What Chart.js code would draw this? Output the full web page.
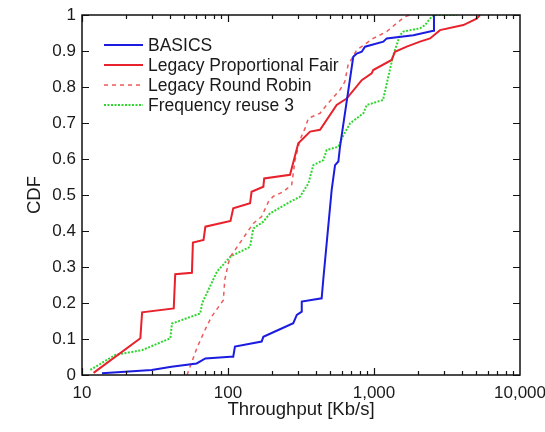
<!DOCTYPE html>
<html>
<head>
<meta charset="utf-8">
<script src="https://cdn.jsdelivr.net/npm/chart.js@4"></script>
<style>
  html, body { margin: 0; padding: 0; background: #fff; }
  canvas { display: block; }
</style>
</head>
<body>
<canvas id="cdf" width="545" height="432"></canvas>
<script>
// datos (throughput en Kb/s, CDF)
const basicsX = [13.7, 30, 41, 61, 70, 104, 108.6, 111.6, 170, 174.6, 221, 280, 296, 320, 320, 438, 450, 513, 541, 570, 585, 721, 762, 824, 868, 1159, 1222, 1862, 2548, 2575];
const basicsY = [0.005, 0.014, 0.023, 0.032, 0.046, 0.051, 0.051, 0.079, 0.093, 0.106, 0.125, 0.144, 0.167, 0.176, 0.204, 0.213, 0.268, 0.514, 0.583, 0.593, 0.634, 0.884, 0.893, 0.898, 0.912, 0.926, 0.935, 0.944, 0.956, 1.0];

const pfX = [12.0, 25.1, 25.8, 42.5, 43.5, 56.6, 57.5, 68, 70, 104, 108.6, 141.6, 145, 174.6, 177, 266, 303, 365, 427, 555, 650, 824, 964, 988, 1321, 1393, 1675, 2065, 2421, 2832, 4093, 5045, 5320];
const pfY = [0.006, 0.102, 0.174, 0.185, 0.28, 0.284, 0.368, 0.375, 0.412, 0.428, 0.463, 0.477, 0.509, 0.523, 0.546, 0.556, 0.644, 0.676, 0.681, 0.75, 0.768, 0.819, 0.838, 0.847, 0.875, 0.898, 0.912, 0.926, 0.935, 0.958, 0.972, 0.99, 1.0];

const rrX = [52.4, 56.6, 61.1, 69.5, 77.2, 92.9, 95, 100.5, 104, 149, 170, 189, 204, 239, 273, 288, 311, 337, 355, 427, 474, 585, 632, 664, 762, 988, 1222, 1428, 1629, 1766];
const rrY = [0.0, 0.037, 0.074, 0.125, 0.162, 0.208, 0.264, 0.31, 0.329, 0.421, 0.44, 0.481, 0.496, 0.509, 0.528, 0.597, 0.653, 0.685, 0.713, 0.727, 0.75, 0.792, 0.815, 0.861, 0.903, 0.935, 0.954, 0.977, 0.995, 1.0];

const reuseX = [11.4, 16.9, 25.8, 40.3, 41.3, 64.6, 66.4, 84, 104, 141.6, 149, 174.6, 194, 266, 311, 355, 384, 450, 474, 570, 601, 685, 845, 892, 1153, 1355, 1507, 1589, 2065, 2234, 2421, 2548, 3700];
const reuseY = [0.014, 0.056, 0.069, 0.102, 0.143, 0.171, 0.199, 0.287, 0.329, 0.356, 0.407, 0.426, 0.449, 0.481, 0.495, 0.532, 0.583, 0.597, 0.625, 0.634, 0.657, 0.699, 0.727, 0.75, 0.764, 0.889, 0.944, 0.954, 0.963, 0.972, 0.99, 1.0, 1.0];

const xTicks = [10, 100, 1000, 10000];
const yTicks = [0, 0.1, 0.2, 0.3, 0.4, 0.5, 0.6, 0.7, 0.8, 0.9, 1];

function pares(xs, ys) {
  return xs.map((x, i) => ({ x: x, y: ys[i] }));
}

const series = [
  { label: "BASICS", data: pares(basicsX, basicsY), borderColor: "#1c1ce0", borderWidth: 2, borderDash: [] },
  { label: "Legacy Proportional Fair", data: pares(pfX, pfY), borderColor: "#e8222c", borderWidth: 2, borderDash: [] },
  { label: "Legacy Round Robin", data: pares(rrX, rrY), borderColor: "#ee5a5a", borderWidth: 1.5, borderDash: [4, 4] },
  { label: "Frequency reuse 3", data: pares(reuseX, reuseY), borderColor: "#2fd62f", borderWidth: 2, borderDash: [2, 1.5] },
];

// marco con marcas hacia dentro y leyenda dentro del area
const marcoPlugin = {
  id: "marco",
  afterDatasetsDraw(chart) {
    const ctx = chart.ctx;
    const a = chart.chartArea;
    const xs = chart.scales.x;
    const ys = chart.scales.y;
    ctx.save();
    ctx.strokeStyle = "#111";
    ctx.lineWidth = 1.2;
    ctx.setLineDash([]);
    ctx.beginPath();
    // marcas menores y mayores del eje log
    for (let d = 10; d < 10000; d *= 10) {
      for (let m = 1; m < 10; m++) {
        const v = d * m;
        const px = Math.round(xs.getPixelForValue(v)) + 0.5;
        const len = m === 1 ? 7 : 4;
        ctx.moveTo(px, a.bottom);
        ctx.lineTo(px, a.bottom - len);
        ctx.moveTo(px, a.top);
        ctx.lineTo(px, a.top + len);
      }
    }
    yTicks.forEach(v => {
      const py = Math.round(ys.getPixelForValue(v)) + 0.5;
      ctx.moveTo(a.left, py);
      ctx.lineTo(a.left + 7, py);
      ctx.moveTo(a.right, py);
      ctx.lineTo(a.right - 7, py);
    });
    ctx.stroke();
    ctx.lineWidth = 1.5;
    ctx.strokeRect(a.left, a.top, a.right - a.left, a.bottom - a.top);

    // leyenda
    ctx.font = "17.5px 'Liberation Sans', Arial, sans-serif";
    ctx.textBaseline = "middle";
    ctx.fillStyle = "#1a1a1a";
    series.forEach((s, i) => {
      const y = 45 + i * 20;
      ctx.beginPath();
      ctx.strokeStyle = s.borderColor;
      ctx.lineWidth = s.borderWidth;
      ctx.setLineDash(s.borderDash);
      ctx.moveTo(104, y);
      ctx.lineTo(143, y);
      ctx.stroke();
      ctx.fillText(s.label, 148, y + 1);
    });
    ctx.restore();
  },
};

const fuente = "'Liberation Sans', Arial, sans-serif";

new Chart(document.getElementById("cdf"), {
  type: "line",
  data: {
    datasets: series.map(s => ({
      label: s.label,
      data: s.data,
      borderColor: s.borderColor,
      borderWidth: s.borderWidth,
      borderDash: s.borderDash,
      pointRadius: 0,
      fill: false,
      tension: 0,
    })),
  },
  options: {
    responsive: false,
    devicePixelRatio: 1,
    animation: false,
    layout: { padding: { top: 15, right: 25, left: 0, bottom: 0 } },
    plugins: { legend: { display: false }, tooltip: { enabled: false } },
    scales: {
      x: {
        type: "logarithmic",
        min: 10,
        max: 10000,
        grid: { display: false, drawTicks: false },
        border: { display: false },
        afterBuildTicks: scale => {
          scale.ticks = xTicks.map(v => ({ value: v }));
        },
        afterFit: scale => {
          scale.height = 57;
          scale.paddingLeft = 0;
          scale.paddingRight = 0;
        },
        ticks: {
          autoSkip: false,
          maxRotation: 0,
          padding: 8,
          color: "#1a1a1a",
          font: { family: fuente, size: 17 },
          callback: v => Number(v).toLocaleString("en-US"),
        },
        title: {
          display: true,
          text: "Throughput [Kb/s]",
          color: "#1a1a1a",
          font: { family: fuente, size: 18.5 },
          padding: { top: 0, bottom: 11 },
        },
      },
      y: {
        min: 0,
        max: 1,
        grid: { display: false, drawTicks: false },
        border: { display: false },
        afterBuildTicks: scale => {
          scale.ticks = yTicks.map(v => ({ value: v }));
        },
        afterFit: scale => {
          scale.width = 82;
          scale.paddingTop = 0;
          scale.paddingBottom = 0;
        },
        ticks: {
          padding: 6,
          color: "#1a1a1a",
          font: { family: fuente, size: 17 },
          callback: v => String(Number(v.toFixed(1))),
        },
        title: {
          display: true,
          text: "CDF",
          color: "#1a1a1a",
          font: { family: fuente, size: 18.5 },
          padding: { top: 24, bottom: 0 },
        },
      },
    },
  },
  plugins: [marcoPlugin],
});
</script>
</body>
</html>
